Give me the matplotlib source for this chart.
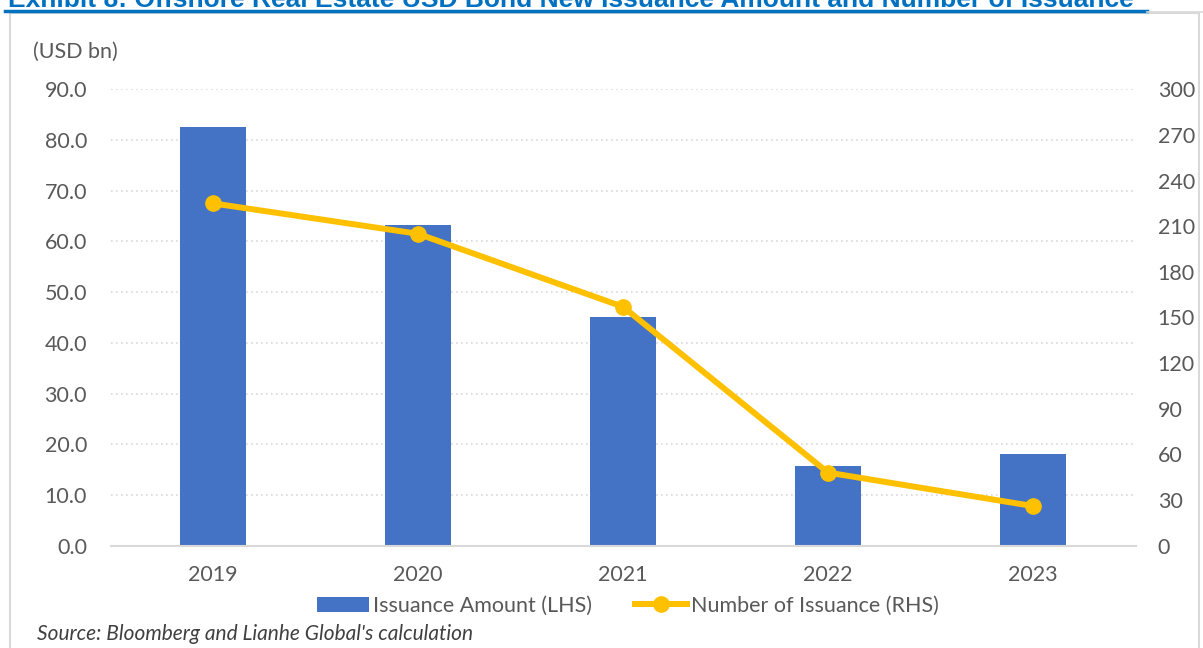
import numpy as np
import matplotlib.pyplot as plt
from matplotlib.lines import Line2D
from matplotlib.patches import Patch, Rectangle

years = ["2019", "2020", "2021", "2022", "2023"]
amount_bn = [82.5, 63.3, 45.0, 15.7, 18.0]   # LHS, USD bn
num_issuance = [225, 205, 157, 48, 26]        # RHS, count

left_ticks = np.arange(0, 91, 10)
right_ticks = np.arange(0, 301, 30)

BLUE = "#4472C4"
GOLD = "#FFC000"
GREY_TXT = "#595959"
GRID = "#D9D9D9"
FS = 15.5

plt.rcParams["font.family"] = ["Lato", "DejaVu Sans"]

fig = plt.figure(figsize=(12.03, 6.48), dpi=100)

# frame round the exhibit
fig.patches.append(Rectangle((10 / 1203, -0.01), 1189 / 1203, 1 - 13 / 648 + 0.01,
                             transform=fig.transFigure, fill=False,
                             edgecolor=GRID, linewidth=1.5))

# title, partly above the page edge, with its rule
fig.text(8 / 1203, 1 - 7 / 648,
         "Exhibit 8: Offshore Real Estate USD Bond New Issuance Amount and Number of Issuance",
         family="Liberation Sans", weight="bold", fontsize=19, color="#0070C0",
         ha="left", va="baseline")
fig.add_artist(Line2D([5 / 1203, 1147 / 1203], [1 - 11 / 648] * 2,
                      transform=fig.transFigure, color="#0070C0", linewidth=2.5))
fig.add_artist(Line2D([1147 / 1203, 1.0], [1 - 12 / 648] * 2,
                      transform=fig.transFigure, color=GRID, linewidth=1.2))

ax = fig.add_axes([110.5 / 1203, 102.4 / 648, 1025 / 1203, 456.3 / 648])
x = np.arange(len(years))

ax.bar(x, amount_bn, width=0.325, color=BLUE, zorder=2)
ax.set_xlim(-0.5, len(years) - 0.5)
ax.set_ylim(0, 90)
ax.set_yticks(left_ticks)
ax.set_yticklabels([f"{v:.1f}" for v in left_ticks])
ax.set_xticks(x)
ax.set_xticklabels(years)
ax.grid(axis="y", linestyle=(0, (1, 2)), color=GRID, linewidth=1.2, zorder=0)
ax.set_axisbelow(True)
for side in ["top", "right", "left"]:
    ax.spines[side].set_visible(False)
ax.spines["bottom"].set_color(GRID)
ax.spines["bottom"].set_linewidth(1.5)
ax.tick_params(axis="both", length=0, labelsize=FS, labelcolor=GREY_TXT)
ax.tick_params(axis="y", pad=17)
ax.tick_params(axis="x", pad=14)

ax2 = ax.twinx()
ax2.plot(x, num_issuance, color=GOLD, linewidth=4.3, marker="o",
         markersize=11, zorder=3)
ax2.set_ylim(0, 300)
ax2.set_yticks(right_ticks)
for side in ["top", "right", "left", "bottom"]:
    ax2.spines[side].set_visible(False)
ax2.tick_params(axis="y", length=0, labelsize=FS, labelcolor=GREY_TXT, pad=16)

fig.text(33 / 1203, 1 - 52 / 648, "(USD bn)", fontsize=FS, color=GREY_TXT,
         ha="left", va="center")

handles = [
    Patch(facecolor=BLUE, label="Issuance Amount (LHS)"),
    Line2D([], [], color=GOLD, linewidth=4.3, marker="o", markersize=11,
           label="Number of Issuance (RHS)"),
]
fig.legend(handles=handles, loc="center", bbox_to_anchor=(628 / 1203, 1 - 606 / 648),
           ncol=2, frameon=False, fontsize=FS, labelcolor=GREY_TXT,
           handlelength=2.4, handletextpad=0.2, columnspacing=2.0)

fig.text(37 / 1203, 1 - 634 / 648, "Source: Bloomberg and Lianhe Global's calculation",
         fontsize=15, style="italic", color="#404040", ha="left", va="center")

fig.savefig("out.png", dpi=100)
